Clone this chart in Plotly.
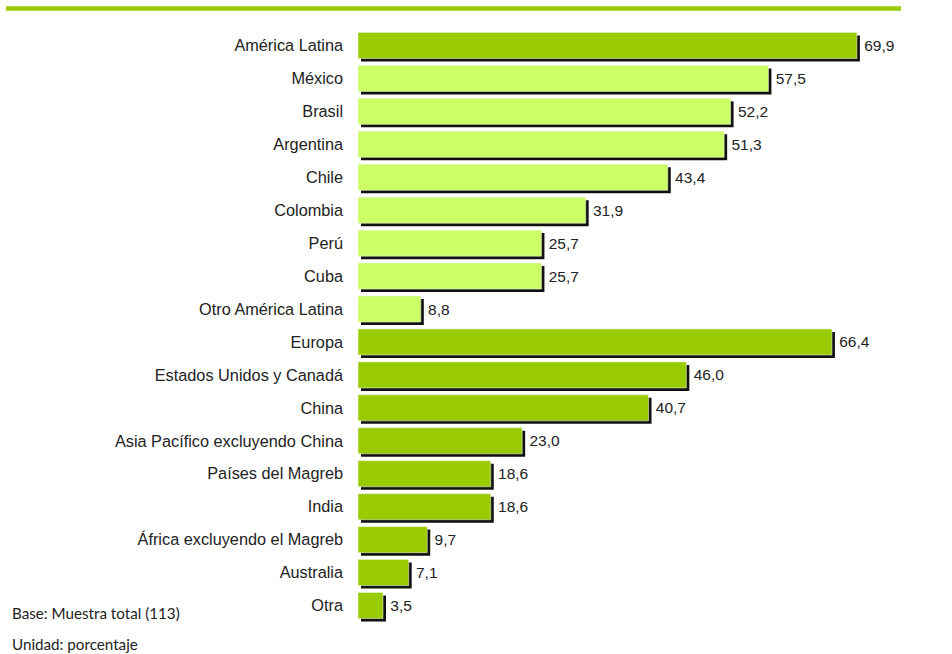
import plotly.graph_objects as go

# Destinos y porcentaje de menciones
categorias = [
    "América Latina", "México", "Brasil", "Argentina", "Chile", "Colombia",
    "Perú", "Cuba", "Otro América Latina", "Europa", "Estados Unidos y Canadá",
    "China", "Asia Pacífico excluyendo China", "Países del Magreb", "India",
    "África excluyendo el Magreb", "Australia", "Otra",
]
valores = [69.9, 57.5, 52.2, 51.3, 43.4, 31.9, 25.7, 25.7, 8.8, 66.4, 46.0,
           40.7, 23.0, 18.6, 18.6, 9.7, 7.1, 3.5]
# Filas de total regional (verde oscuro) frente a países (verde claro)
es_total = [True, False, False, False, False, False, False, False, False,
            True, True, True, True, True, True, True, True, True]

VERDE_OSCURO = "#99CC00"
VERDE_CLARO = "#CCFF66"
colores = [VERDE_OSCURO if t else VERDE_CLARO for t in es_total]

W, H = 952, 654
ML, MR, MT, MB = 358, 23, 28.5, 31.5
XMAX = 80
plot_w = W - ML - MR
plot_h = H - MT - MB
px_x = XMAX / plot_w          # data units per pixel (x)
px_y = len(categorias) / plot_h  # category units per pixel (y)

ANCHO = 0.79
sombra_dx = 3 * px_x
sombra_dy = 3 * px_y

FUENTE = "Liberation Sans, Arial, sans-serif"
TEXTO = "#222222"

fig = go.Figure()

# Sombra negra desplazada abajo a la derecha
fig.add_trace(go.Bar(
    y=categorias, x=valores, base=sombra_dx, orientation="h",
    width=ANCHO, offset=-ANCHO / 2 + sombra_dy,
    marker=dict(color="#111111", line=dict(width=0)),
    hoverinfo="skip", showlegend=False,
))

# Barras principales con su valor
fig.add_trace(go.Bar(
    y=categorias, x=valores, orientation="h",
    width=ANCHO, offset=-ANCHO / 2,
    marker=dict(color=colores, line=dict(color="#e6f2cc", width=0.6)),
    text=valores, texttemplate=" %{x:.1f}", textposition="outside",
    textfont=dict(family=FUENTE, size=15.5, color=TEXTO),
    cliponaxis=False, showlegend=False,
))

nota = dict(family="Lato, Open Sans, sans-serif", size=15.2, color=TEXTO)

fig.update_layout(
    width=W, height=H,
    margin=dict(l=ML, r=MR, t=MT, b=MB, autoexpand=False),
    paper_bgcolor="white", plot_bgcolor="white",
    barmode="overlay",
    separators=",.",
    xaxis=dict(range=[0, XMAX], visible=False, showgrid=False, zeroline=False),
    yaxis=dict(
        type="category", categoryorder="array", categoryarray=categorias,
        range=[len(categorias) - 0.5, -0.5],
        showgrid=False, zeroline=False, showline=False, ticks="",
        ticklabelstandoff=14,
        tickfont=dict(family=FUENTE, size=16.3, color=TEXTO),
    ),
    shapes=[dict(
        type="line", xref="paper", yref="paper",
        x0=(6 - ML) / plot_w, x1=(901 - ML) / plot_w,
        y0=(H - MB - 8) / plot_h, y1=(H - MB - 8) / plot_h,
        line=dict(color=VERDE_OSCURO, width=4.5),
    )],
    annotations=[
        dict(text="Base: Muestra total (113)", xref="paper", yref="paper",
             x=(10 - ML) / plot_w, y=(H - MB - 613) / plot_h,
             xanchor="left", yanchor="middle", showarrow=False, font=nota),
        dict(text="Unidad: porcentaje", xref="paper", yref="paper",
             x=(10 - ML) / plot_w, y=(H - MB - 645) / plot_h,
             xanchor="left", yanchor="middle", showarrow=False, font=nota),
    ],
)

fig.write_html("out.html")
